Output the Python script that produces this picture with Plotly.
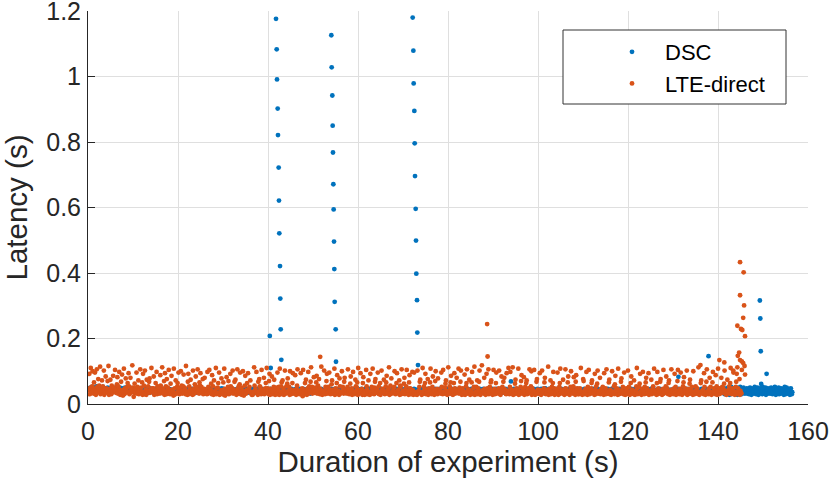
import numpy as np
import plotly.graph_objects as go

# ---------------- DATA ----------------
# Latency code alphabet: index i -> 0.020 + 0.002*i seconds
CODE_ALPHABET = "abcdefghijklmnopqrstuvwxyzABCDEFGHIJKLMNOPQRSTUVWXYZ"
CODE_BASE = 0.020
CODE_STEP = 0.002

# DSC regular samples (one code per packet, in send order)
DSC_CODES = (
    "nmoplnmqonmlopnmrnomlpqnmolnpmqonmlkonmlpnkmlonjkm"
    "mlnokmpnlmokjnlmpkmlnojkmlnpkmlojknmlpkjmlonkmjlnk"
    "ljkmilkjnlkimjlkhljmknlijkmlhjkolimkjlnhkjmilknjlh"
    "kjlimkhljnkmilkjhmlkjnilkmjhlkimjlkhnjlikmjlhkinlj"
    "mkjlhikmljnkhiljmkljhnikmljkhilmnjklhimkjlnkhijmlk"
    "ikmjlhnkjliomkhjlnikjmhlkjinmlhkjoilmnkhjlikmnjhkl"
    "jlkmhinljkmhlijknmlhjkilmnhkjlimkhjlnkimjlhkjmilnk"
    "kjlmhiklnjmkhljikmnlhjkilmjhklnimkjlhnkijmlhkjlimn"
    "lkjmhinklmjhlkinjmlkhijnmlkhjilmnkjhlikmjnlhkijmln"
    "hkjlmignkjhlmikjnhlmkjgilmhknjlikmjhnlkimjhklnmijk"
    "jkhlminjklhmijklnmhjkilmnhjklimhjnklimhjklnimjkhlm"
    "ikjlmhnjkiljmhknlijmkhlnjikmlhjnkilmjhkinljmkhilnj"
    "kljhmnikjlmhkjnilmkhjlinkmjhlkinmjlhkijnlmkhjilnmk"
    "mjklhinmkjlhimknjlhmikjlnhkmijlhkmnjilkhmjlnkihmjl"
    "jlkhminjlkmhijlnkmjhilknmjlhkinjmlkhijnlmkjhilmnjk"
    "lkjhimnkljhmiknjlmhkjilnmkjhlimnkjlhimkjnlhikmjlnh"
    "kjlhmiknjlmhkijnlmkhjilmnkjhlimjknlhimkjlnhkimjlhk"
    "nkjlimhkjlnmikhjlmnkijhlmkjniholkjmihlnkjmilhkjnml"
    "jklmhinkjlmhiknljmhkjilnmkjhlimnkjlhimknjlhkimjlnk"
    "kjlhminkjlgmiknjlmhkjoomnkjhlimnkjlhipkjnlhkimjlnh"
    "jlkhmiknjlmhkijnlmkhjilmnkjhlimjknlhimkjlnhkimjlhk"
    "hmkjlinkhjmlikjnhlmkijhlnmkjilhmknjlikhmjlnikhjmlk"
    "kjlmhinkjlmhiknljmhkjilnmkjhlimnkjlhimknjlhkimjlnk"
    "lkjhminkjlhmiknjlmhkjilmnkjhlimnkjlhimkjnlhkimjlnh"
    "jkilhmjkiljhmkjlinkhjmlikjhlmkjilhmjkljihmkjlhimkj"
    "kmjlhinkjmlhikjnmlhkijmlnhkjimlhnkjmilhknjmlihkjml"
    "jlkhminjklhmikjnlhmkjilnhkmjlihnkjmlihkjnmlhikjmln"
    "hkmjofilnhgkpmjelniqhkgmojflhnpkeimgjoqhlfkniphmgj"
    "ljoghnkfmpiheljnogkqmhfjlpiengkomhjfqlgnkipejhmolg"
    "nhkgpjmfliohqkejngmlpfikhojgnlmekqhfjpigmnlkehojfi"
)
DSC_T_FIRST, DSC_T_LAST = 0.2, 156.5

# DSC delayed packets (queue bursts and stragglers)
DSC_EXTRA_X = [40.4, 40.6,
               41.78, 41.93, 42.00, 42.15, 42.22, 42.37, 42.44, 42.51, 42.67, 42.73, 42.82, 42.96,
               54.07, 54.15, 54.29, 54.37, 54.44, 54.52, 54.59, 54.67, 54.74, 54.82, 55.04, 55.11,
               72.15, 72.30, 72.37, 72.52, 72.60, 72.67, 72.82, 72.89, 72.96, 73.11, 73.18, 73.33,
               94.0, 131.2, 137.9,
               149.3, 149.4, 149.5, 149.6, 150.8]
DSC_EXTRA_Y = [0.208, 0.110,
               1.176, 1.083, 0.991, 0.902, 0.821, 0.722, 0.621, 0.521, 0.421, 0.322, 0.228, 0.135,
               1.126, 1.028, 0.942, 0.850, 0.768, 0.671, 0.594, 0.496, 0.412, 0.312, 0.228, 0.129,
               1.180, 1.079, 0.979, 0.895, 0.796, 0.696, 0.596, 0.499, 0.398, 0.317, 0.218, 0.119,
               0.069, 0.083, 0.146,
               0.316, 0.261, 0.161, 0.061, 0.092]

# LTE-direct regular samples
LTE_CODES = (
    "lKfpTmhrOjgxnMkehRqiCosjVflkAmriPelhGojnzhWegnBkfs"
    "piHmpkQlhmuFgrnNkehyeJldiSfohDmjqwiLrfhEkmjXpibhvo"
    "hnMgqiAfkoRhpjxeKisfPgmeBkjriyDhmlTjokoGehlwjNfrqk"
    "ojgIshkUmngzeLjrfCkpgQlifvhHmjkdSeofAhgqwjMnfpiOhs"
    "gkrJipnfWgjeyKfrmiBgkmePfiouhGkqiRjlgxsLhqkiCfjnEh"
    "mhjfNgqiQkhmvfIjreAhikTfogpwhMefkiDljhxeSndfkFghqz"
    "fimKrhjoPgkmyhBiejRngrhuMfjpegOkdhsHjglwiLknqjAhge"
    "hegjUskniNhgeyjCrqmfQhgjmEfkowiThojfzKenlhGfjkqBme"
    "jpgfMhkqeSgjrxfAhnejPigrhvDkjqeOifmhwLgkjlIhensRkj"
    "gfkiLhjocQgmfwiBhejoNgrkhyUiqgjmFkhpixHglskCnfnhVg"
    "ekhgPjfqozKhgqjMkmfiuAgjmkSefolwIhjkeDrgihOjqngyEh"
    "hmjgqRkifmvGjoekNhgfiBrkpxeTfhliLkjnewFhgekjQrmfhA"
    "fgeKjhqoSgkfpyChjimMgrfhwejPinmkBhfjrxHgimoUefshDg"
    "jhkoqOgfiwLjhmgAesqfRhjkgvEfmhrQjgkexIonfjkNleiMhf"
    "gfiePjhkqyBgiefThjrnwKfgmhCejokxSgfhqGmjekzOhgnfDj"
    "hjmkgMqifQhjgpvAkfeiUhgrnxHkfmejwLogkhEljiSgpkyPhe"
    "ogkfiJehrwRgmkmBiehjxNgfoqVeihqjAfokyPgeihXkjlgEnh"
    "eiKgojRfhqmxAgkejQhnfiwMgjkloPhfeiGkqjynEhmgfLkjhT"
    "jfqNhgmiUekjfvBgohkmSejfiqzIhgnkFejqhwAfkgoiRhjrOe"
    "okhgQjefiyCgmjhkLfleiPghjoxEkfhgimVejnkAfhqgwNjoek"
    "hgjnMkefqwSgimhjBkfenRogjhxGkfeiqOhjmgrFkjeyIhogfk"
    "fkohTgjeiCzhfkngNjeqmQhfgiowAkjhgeKmfrjvPhgkiEfjnh"
    "gqjeLhkofRigjhxBfmkegOhjirfuHkgojeSmfhgiyDkjqfhMge"
    "jofkgPhqiejwGkmhgfAiejkrTofhgqvKjgeinNhkfqjxEgoihL"
    "ekgjhBfiormSjgkhewNfogjiyChkefnQgjhirGkojfwAhegkRm"
    "hjfgoKiqekjzQhgfniMkjegrxFhokgiPejfnhvBgkjqieOhgfk"
    "rgkohjUfeigwAjhkmfLqgeiyRhjkfoEgqiehxNjkogfIhrekSj"
    "fohgkEjqiohvPgkfejBhimrgwTjfkhoMgjeiqyKhfogjCekhgQ"
)
LTE_T_FIRST, LTE_T_LAST = 0.2, 145.3

# LTE-direct delayed packets
LTE_EXTRA_X = [51.6, 88.7, 88.8, 136.1, 140.3, 141.4,
               143.4, 144.3, 144.3, 144.4, 144.7, 144.9, 144.9, 144.9, 145.1, 145.3,
               145.4, 145.6, 145.6, 145.7, 145.8, 145.9, 146.0, 146.0]
LTE_EXTRA_Y = [0.144, 0.244, 0.145, 0.119, 0.134, 0.127,
               0.102, 0.239, 0.112, 0.147, 0.157, 0.433, 0.332, 0.134, 0.229, 0.130,
               0.226, 0.263, 0.125, 0.402, 0.301, 0.116, 0.207, 0.090]

X_TICKS = [0, 20, 40, 60, 80, 100, 120, 140, 160]
Y_TICKS = [0, 0.2, 0.4, 0.6, 0.8, 1.0, 1.2]
Y_TICK_TEXT = ["0", "0.2", "0.4", "0.6", "0.8", "1", "1.2"]
SERIES_NAMES = ["DSC", "LTE-direct"]
SERIES_COLORS = ["#0072BD", "#D95319"]


def decode(codes):
    return np.array([CODE_BASE + CODE_STEP * CODE_ALPHABET.index(c) for c in codes])


dsc_y = np.concatenate([decode(DSC_CODES), DSC_EXTRA_Y])
dsc_x = np.concatenate([np.linspace(DSC_T_FIRST, DSC_T_LAST, len(DSC_CODES)), DSC_EXTRA_X])
lte_y = np.concatenate([decode(LTE_CODES), LTE_EXTRA_Y])
lte_x = np.concatenate([np.linspace(LTE_T_FIRST, LTE_T_LAST, len(LTE_CODES)), LTE_EXTRA_X])

# ---------------- FIGURE ----------------
W, H = 830, 485
L, R, T, B = 88, 22, 11, 81
FONT = "Liberation Sans, Arial, Helvetica, sans-serif"
INK = "#262626"

fig = go.Figure()
for name, xs, ys, col, grp in [(SERIES_NAMES[0], dsc_x, dsc_y, SERIES_COLORS[0], "a"),
                               (SERIES_NAMES[1], lte_x, lte_y, SERIES_COLORS[1], "b")]:
    fig.add_trace(go.Scatter(x=xs, y=ys, mode="markers", name=name, legendgroup=grp,
                             marker=dict(color=col, size=4.8, line=dict(width=0))))


def px_to_paper_x(px):
    return (px - L) / (W - L - R)


def px_to_paper_y(py):
    return (H - B - py) / (H - T - B)


# legend frame
fig.add_shape(type="rect", xref="paper", yref="paper",
              x0=px_to_paper_x(563), x1=px_to_paper_x(786),
              y0=px_to_paper_y(104), y1=px_to_paper_y(30),
              line=dict(color="#333333", width=1), fillcolor="white", layer="above")

fig.update_layout(
    width=W, height=H, autosize=False,
    margin=dict(l=L, r=R, t=T, b=B, autoexpand=False),
    paper_bgcolor="white", plot_bgcolor="white",
    font=dict(family=FONT, size=25, color=INK),
    legend=dict(x=px_to_paper_x(599), y=px_to_paper_y(31), xanchor="left", yanchor="top",
                bgcolor="rgba(0,0,0,0)", borderwidth=0, itemwidth=56,
                font=dict(size=22, color="black"), tracegroupgap=0),
    xaxis=dict(range=[0, 160], tickvals=X_TICKS, ticks="inside", ticklen=7, tickcolor=INK,
               showline=True, linecolor=INK, linewidth=1, mirror=False, zeroline=False,
               showgrid=True, gridcolor="#dfdfdf", gridwidth=1, automargin=False,
               ticklabeloverflow="allow", ticklabelstandoff=5,
               tickfont=dict(size=25, color=INK),
               title=dict(text="Duration of experiment (s)", font=dict(size=29.5, color=INK), standoff=6)),
    yaxis=dict(range=[0, 1.2], tickvals=Y_TICKS, ticktext=Y_TICK_TEXT, ticks="inside", ticklen=7,
               tickcolor=INK, showline=True, linecolor=INK, linewidth=1, mirror=False, zeroline=False,
               showgrid=True, gridcolor="#dfdfdf", gridwidth=1, automargin=False,
               ticklabeloverflow="allow", ticklabelstandoff=1,
               tickfont=dict(size=25, color=INK),
               title=dict(text="Latency (s)", font=dict(size=29.5, color=INK), standoff=15)),
)

fig.write_html("out.html", post_script="document.body.style.margin='0';",
               config={"displayModeBar": False})
